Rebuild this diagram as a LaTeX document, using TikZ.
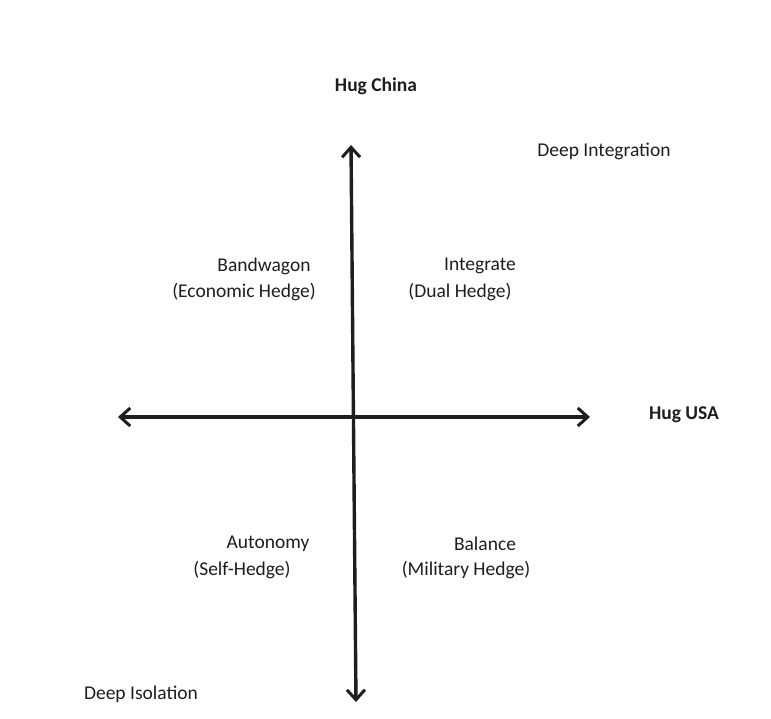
\documentclass[tikz,border=0pt]{standalone}
\usepackage{fontspec}
\setmainfont{Carlito}
\usetikzlibrary{arrows.meta}
\definecolor{ink}{HTML}{1E1E1E}
\tikzset{
  axis/.style={line width=3.4pt, draw=ink, {Straight Barb[length=10pt,width=18pt,line width=3pt]}-{Straight Barb[length=10pt,width=18pt,line width=3pt]}},
  lbl/.style={text=ink, inner sep=0pt, font=\fontsize{19.5}{25}\selectfont},
  pole/.style={lbl, font=\fontsize{19.5}{25}\selectfont\bfseries}
}
\begin{document}
\begin{tikzpicture}[x=1pt,y=-1pt]
\useasboundingbox (0,0) rectangle (771,718);
\fill[white] (0,0) rectangle (771,718);
\coordinate (top) at (351,145);
\coordinate (bot) at (356,702);
\coordinate (left) at (118,417);
\coordinate (right) at (590,417);
\draw[axis] (bot) -- (top);
\draw[axis] (left) -- (right);
\node[pole] (china) at (376,86) {Hug China};
\node[pole] (usa) at (684,415) {Hug USA};
\node[lbl] (deepint) at (604,151) {Deep Integration};
\node[lbl] (deepiso) at (141,694) {Deep Isolation};
\node[lbl] (band1) at (264,266) {Bandwagon};
\node[lbl] (band2) at (244,292) {(Economic Hedge)};
\node[lbl] (integ1) at (480,266) {Integrate};
\node[lbl] (integ2) at (460,292) {(Dual Hedge)};
\node[lbl] (auto1) at (268,544) {Autonomy};
\node[lbl] (auto2) at (242,570) {(Self-Hedge)};
\node[lbl] (bal1) at (485,544) {Balance};
\node[lbl] (bal2) at (466,570) {(Military Hedge)};
\end{tikzpicture}
\end{document}
